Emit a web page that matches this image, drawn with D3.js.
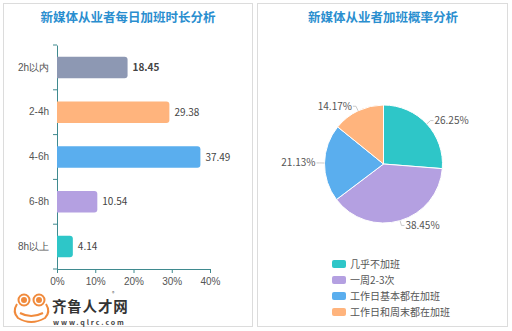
<!DOCTYPE html>
<html><head><meta charset="utf-8">
<script src="https://cdn.jsdelivr.net/npm/d3@7"></script>
<style>body{margin:0;background:#fff;}svg{display:block;font-family:"Noto Sans CJK SC","Noto Sans",sans-serif;}</style>
</head><body><svg id="c" width="512" height="331"></svg>
<script>
const barCategories = ["2h以内","2-4h","4-6h","6-8h","8h以上"];
const barValues = [18.45, 29.38, 37.49, 10.54, 4.14];
const barColors = ["#8d98b3","#ffb47d","#5aaeee","#b4a0e1","#2ec6c8"];
const xTicks = [0,10,20,30,40];
const pieLabels = ["几乎不加班","一周2-3次","工作日基本都在加班","工作日和周末都在加班"];
const pieValues = [26.25, 38.45, 21.13, 14.17];
const pieColors = ["#2ec6c8","#b4a0e1","#5aaeee","#ffb47d"];
const titles = ["新媒体从业者每日加班时长分析","新媒体从业者加班概率分析"];

const svg = d3.select("#c");
// panels
svg.append("rect").attr("x",3.5).attr("y",3.5).attr("width",249).attr("height",323).attr("fill","#fff").attr("stroke","#dcdcdc");
svg.append("rect").attr("x",257.5).attr("y",3.5).attr("width",250).attr("height",323).attr("fill","#fff").attr("stroke","#dcdcdc");
svg.append("text").attr("x",128).attr("y",22).attr("text-anchor","middle").attr("font-size",12.5).attr("font-weight","bold").attr("fill","#2a8ecf").text(titles[0]);
svg.append("text").attr("x",383).attr("y",22).attr("text-anchor","middle").attr("font-size",12.5).attr("font-weight","bold").attr("fill","#2a8ecf").text(titles[1]);

// bar chart
const x = d3.scaleLinear().domain([0,40]).range([57,210]);
const y = d3.scaleBand().domain(barCategories).range([45,269]).paddingInner(0.52).paddingOuter(0.26);
const yb = d3.scaleBand().domain(barCategories).range([45,269]);
const axisColor = "#3f8a8f";
const g = svg.append("g");
g.append("g").attr("transform","translate(0,269)")
 .call(d3.axisBottom(x).tickValues(xTicks).tickFormat(d=>d+"%").tickSize(4).tickSizeOuter(0))
 .call(a=>{a.select(".domain").attr("stroke",axisColor);a.selectAll("line").attr("stroke",axisColor);a.selectAll("text").attr("fill","#555").attr("font-size",10).attr("dy","0.9em");});
g.append("g").attr("transform","translate(57,0)")
 .call(d3.axisLeft(yb).tickSize(0).tickPadding(8))
 .call(a=>{a.select(".domain").attr("stroke",axisColor);a.selectAll("text").attr("fill","#555").attr("font-size",10);});
// boundary ticks
g.selectAll(".bt").data(d3.range(0,barCategories.length+1)).enter().append("line")
 .attr("x1",53).attr("x2",57).attr("y1",i=>45+i*yb.step()).attr("y2",i=>45+i*yb.step()).attr("stroke",axisColor);
function rRight(x0,y0,w,h,r){r=Math.min(r,w);return `M${x0},${y0}H${x0+w-r}Q${x0+w},${y0} ${x0+w},${y0+r}V${y0+h-r}Q${x0+w},${y0+h} ${x0+w-r},${y0+h}H${x0}Z`;}
g.selectAll(".bar").data(barValues).enter().append("path")
 .attr("d",(d,i)=>rRight(x(0),y(barCategories[i]),x(d)-x(0),y.bandwidth(),3)).attr("fill",(d,i)=>barColors[i]);
g.selectAll(".bl").data(barValues).enter().append("text")
 .attr("x",d=>x(d)+5).attr("y",(d,i)=>y(barCategories[i])+y.bandwidth()/2).attr("dy","0.35em")
 .attr("font-size",10).attr("fill","#444").attr("font-weight",(d,i)=>i===0?"bold":"normal").text(d=>d.toFixed(2));

// pie
const cx=383.5, cy=164, R=59;
const pie = d3.pie().sort(null).value(d=>d)(pieValues);
const arc = d3.arc().innerRadius(0).outerRadius(R);
const pg = svg.append("g").attr("transform",`translate(${cx},${cy})`);
pg.selectAll("path").data(pie).enter().append("path").attr("d",arc).attr("fill",(d,i)=>pieColors[i]).attr("stroke","#fff").attr("stroke-width",1);
pie.forEach((d,i)=>{
  const a=(d.startAngle+d.endAngle)/2;
  const sx=Math.sin(a), sy=-Math.cos(a);
  const p1=[sx*R,sy*R], p2=[sx*(R+5),sy*(R+5)];
  const right = sx>=0;
  const p3=[p2[0]+(right?3:-3),p2[1]];
  pg.append("polyline").attr("points",[p1,p2,p3].map(p=>p.join(",")).join(" ")).attr("fill","none").attr("stroke","#bbb").attr("stroke-width",0.8);
  pg.append("text").attr("x",p3[0]+(right?1:-1)).attr("y",p3[1]).attr("dy","0.35em").attr("text-anchor",right?"start":"end")
    .attr("font-size",10).attr("fill","#555").text(pieValues[i].toFixed(2)+"%");
});
// legend
const lg = svg.append("g");
pieLabels.forEach((l,i)=>{
  const yy=264+i*16;
  lg.append("rect").attr("x",332).attr("y",yy-4).attr("width",14).attr("height",8).attr("rx",2).attr("fill",pieColors[i]);
  lg.append("text").attr("x",350).attr("y",yy).attr("dy","0.35em").attr("font-size",10).attr("fill","#555").text(l);
});

// logo
const lo = svg.append("g").attr("fill","none").attr("stroke","#f08a3c").attr("stroke-width",2);
lo.append("circle").attr("cx",24).attr("cy",300).attr("r",5.5);
lo.append("circle").attr("cx",39).attr("cy",300).attr("r",5.5);
lo.append("circle").attr("cx",24).attr("cy",300).attr("r",2).attr("fill","#f08a3c");
lo.append("circle").attr("cx",39).attr("cy",300).attr("r",2).attr("fill","#f08a3c");
lo.append("path").attr("d","M17,304 Q12,312 18,318 Q31,326 45,318 Q51,312 46,304");
lo.append("path").attr("d","M20,313 Q31,319 43,313");
svg.append("text").attr("x",52).attr("y",312).attr("font-size",14.5).attr("font-weight","bold").attr("fill","#333").attr("letter-spacing",0.8).text("齐鲁人才网");
svg.append("text").attr("x",112).attr("y",295).attr("font-size",5).attr("fill","#555").text("®");
svg.append("text").attr("x",53).attr("y",324.5).attr("font-size",7).attr("font-weight","bold").attr("fill","#444").attr("letter-spacing",1.9).text("www.qlrc.com");
</script></body></html>
